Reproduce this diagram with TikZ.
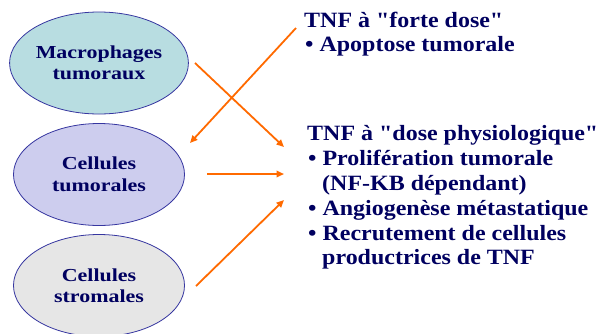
\documentclass[tikz,border=0pt]{standalone}
\usepackage{fontspec}
\setmainfont{Liberation Serif}
\newfontfamily\rfont[FakeStretch=1.1]{Liberation Serif}
\newfontfamily\efont[FakeStretch=1.2]{Liberation Serif}
\usetikzlibrary{arrows.meta,shapes.geometric}
\definecolor{navy}{HTML}{000060}
\definecolor{rim}{HTML}{3636A0}
\definecolor{tealfill}{HTML}{B8DDE1}
\definecolor{lavfill}{HTML}{CDCDEE}
\definecolor{grayfill}{HTML}{E6E6E6}
\definecolor{arrorange}{HTML}{FF6A00}
\begin{document}
\begin{tikzpicture}[x=1pt,y=-1pt,
  cell/.style={ellipse, draw=rim, line width=0.8pt, minimum width=171pt, minimum height=102pt,
    inner sep=0pt, align=center, text=navy, font=\efont\bfseries\fontsize{18.3}{21.5}\selectfont},
  rtext/.style={anchor=base west, inner sep=0pt, text=navy, font=\rfont\bfseries\fontsize{21.8}{24}\selectfont},
  arr/.style={draw=arrorange, line width=1.8pt, -{Triangle[length=7.5pt,width=6.5pt]}}]
\useasboundingbox (0,0) rectangle (597,333);
\clip (0,0) rectangle (597,333);
\fill[white] (0,0) rectangle (597,333);
% ellipses
\node[cell, fill=tealfill] (mac) at (99,63) {Macrophages\\tumoraux};
\node[cell, fill=lavfill] (tum) at (99,174.5) {Cellules\\tumorales};
\node[cell, fill=grayfill] (str) at (99,285.5) {Cellules\\stromales};
% right texts
\node[rtext] (f1) at (304,27.5) {TNF à "forte dose"};
\node[rtext] (f2) at (305,51) {• Apoptose tumorale};
\node[rtext] (p1) at (307,140) {TNF à "dose physiologique"};
\node[rtext] (p2) at (308,165.5) {• Prolifération tumorale};
\node[rtext] (p3) at (322,190) {(NF-KB dépendant)};
\node[rtext] (p4) at (308,215) {• Angiogenèse métastatique};
\node[rtext] (p5) at (308,240) {• Recrutement de cellules};
\node[rtext] (p6) at (322,264.5) {productrices de TNF};
% arrow end points
\coordinate (aS) at (195,63);
\coordinate (aE) at (284,147);
\coordinate (bS) at (296,28);
\coordinate (bE) at (190,143);
\coordinate (cS) at (207,174);
\coordinate (cE) at (284,174);
\coordinate (dS) at (196,286);
\coordinate (dE) at (284,200);
\draw[arr] (aS) -- (aE);
\draw[arr] (bS) -- (bE);
\draw[arr] (cS) -- (cE);
\draw[arr] (dS) -- (dE);
\end{tikzpicture}
\end{document}
